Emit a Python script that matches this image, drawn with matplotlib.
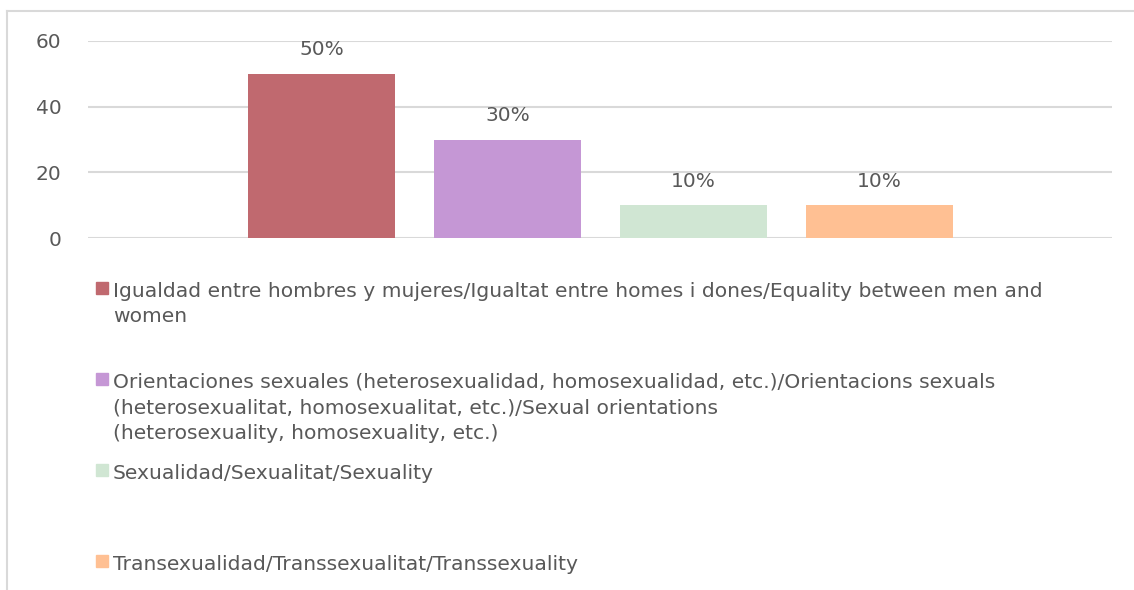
import numpy as np
import matplotlib
matplotlib.use("Agg")
from matplotlib import pyplot as plt
from matplotlib.lines import Line2D
from matplotlib.patches import Rectangle

plt.rcParams['font.family'] = ['DejaVu Sans']

topics = [
    "Igualdad entre hombres y mujeres/Igualtat entre homes i dones/Equality between men and\nwomen",
    "Orientaciones sexuales (heterosexualidad, homosexualidad, etc.)/Orientacions sexuals\n(heterosexualitat, homosexualitat, etc.)/Sexual orientations\n(heterosexuality, homosexuality, etc.)",
    "Sexualidad/Sexualitat/Sexuality",
    "Transexualidad/Transsexualitat/Transsexuality",
]
values = [50, 30, 10, 10]
bar_labels = ["50%", "30%", "10%", "10%"]
colors = ["#C0696F", "#C597D5", "#D0E6D3", "#FFC093"]
yticks = [0, 20, 40, 60]

W, H = 1134, 590
fig = plt.figure(figsize=(W / 100, H / 100), dpi=100)

def fx(px):
    return px / W

def fy(py):
    return 1 - py / H

grey = "#595959"
grid_c = "#D9D9D9"

# chart area frame (top and left edges)
fig.add_artist(Line2D([fx(7), 1], [fy(11), fy(11)], color=grid_c, lw=1.5))
fig.add_artist(Line2D([fx(7), fx(7)], [fy(11), 0], color=grid_c, lw=1.5))

ax = fig.add_axes([fx(88), fy(238), fx(1112) - fx(88), fy(41) - fy(238)])
x = np.arange(len(values))
bars = ax.bar(x, values, width=0.79, color=colors, zorder=2)
ax.set_xlim(-1.255, 4.25)
ax.set_ylim(0, 60)
ax.set_yticks(yticks)
ax.set_xticks([])
ax.grid(axis='y', color=grid_c, lw=1.5, zorder=0)
for s in ax.spines.values():
    s.set_visible(False)
ax.tick_params(axis='y', length=0, pad=19, labelsize=14.5, labelcolor=grey)

for b, lab in zip(bars, bar_labels):
    ax.annotate(lab, (b.get_x() + b.get_width() / 2, b.get_height()),
                xytext=(0, 24), textcoords='offset pixels',
                ha='center', va='center', fontsize=14.5, color=grey,
                annotation_clip=False)

# legend, laid out by hand: baseline of the first line of each entry
legend_y = [297, 388, 479, 570]
line_step = 25.5
for c, t, yy in zip(colors, topics, legend_y):
    fig.add_artist(Rectangle((fx(96), fy(yy - 3)), fx(12), 12 / H,
                             color=c, transform=fig.transFigure))
    for i, line in enumerate(t.split("\n")):
        fig.text(fx(113), fy(yy + i * line_step), line, ha='left',
                 va='baseline', fontsize=14.6, color=grey)

fig.savefig("out.png", dpi=100)
